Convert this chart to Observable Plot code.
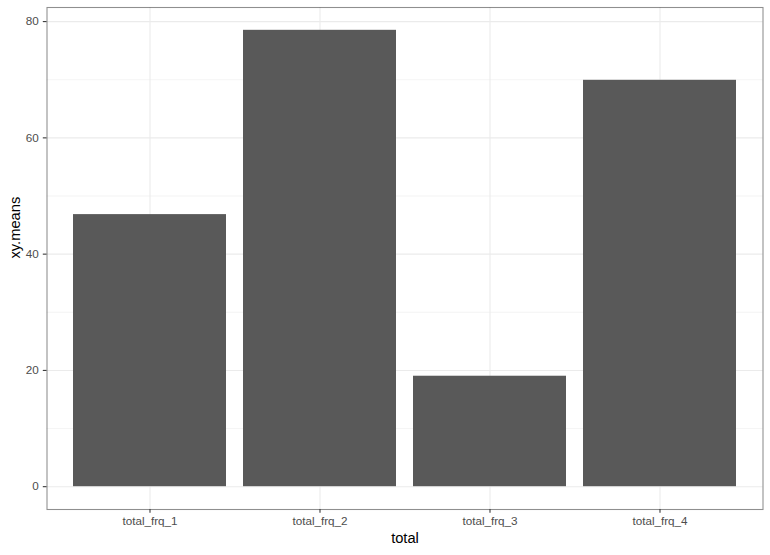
<!DOCTYPE html>
<html>
<head>
<meta charset="utf-8">
<script src="https://cdn.jsdelivr.net/npm/d3@7"></script>
<script src="https://cdn.jsdelivr.net/npm/@observablehq/plot@0.6"></script>
<style>
  html, body { margin: 0; padding: 0; background: #fff; }
  #chart svg { display: block; }
</style>
</head>
<body>
<div id="chart"></div>
<script>
const categories = ["total_frq_1", "total_frq_2", "total_frq_3", "total_frq_4"];
const means = [46.8, 78.5, 19.0, 69.9];
const majorTicks = [0, 20, 40, 60, 80];
const minorTicks = [10, 30, 50, 70];

const data = categories.map((c, i) => ({total: c, value: means[i]}));

const font = "'Liberation Sans', Arial, Helvetica, sans-serif";
const ymax = d3.max(means);
const pad = ymax * 0.05;

const chart = Plot.plot({
  width: 770,
  height: 555,
  marginLeft: 46.5,
  marginRight: 7.5,
  marginTop: 7,
  marginBottom: 46,
  style: {fontFamily: font, background: "#fff"},
  x: {domain: categories, paddingInner: 0.1, paddingOuter: 0.15, align: 0.5, axis: null},
  y: {domain: [-pad, ymax + pad], axis: null},
  marks: [
    Plot.ruleY(minorTicks, {stroke: "#EBEBEB", strokeWidth: 0.53}),
    Plot.ruleY(majorTicks, {stroke: "#EBEBEB", strokeWidth: 1.07}),
    Plot.gridX(categories, {stroke: "#EBEBEB", strokeWidth: 1.07, strokeOpacity: 1}),
    Plot.barY(data, {x: "total", y: "value", fill: "#595959", inset: 0}),
    Plot.frame({stroke: "#333333", strokeOpacity: 0.55, strokeWidth: 1.07}),
    Plot.axisY(majorTicks, {
      tickSize: 3.7, tickPadding: 4.5, fontSize: 11.7, fill: "#4D4D4D",
      stroke: "#333333", strokeWidth: 1.07, label: null
    }),
    Plot.axisX(categories, {
      tickSize: 3.7, tickPadding: 3.5, fontSize: 11.7, fill: "#4D4D4D",
      stroke: "#333333", strokeWidth: 1.07, label: null
    }),
    Plot.text(["xy.means"], {
      frameAnchor: "left", rotate: -90, dx: -32, fontSize: 14.7, fill: "#000", fontFamily: font
    }),
    Plot.text(["total"], {
      frameAnchor: "bottom", dy: 33.5, fontSize: 14.7, fill: "#000", fontFamily: font
    })
  ]
});

document.getElementById("chart").appendChild(chart);
</script>
</body>
</html>
